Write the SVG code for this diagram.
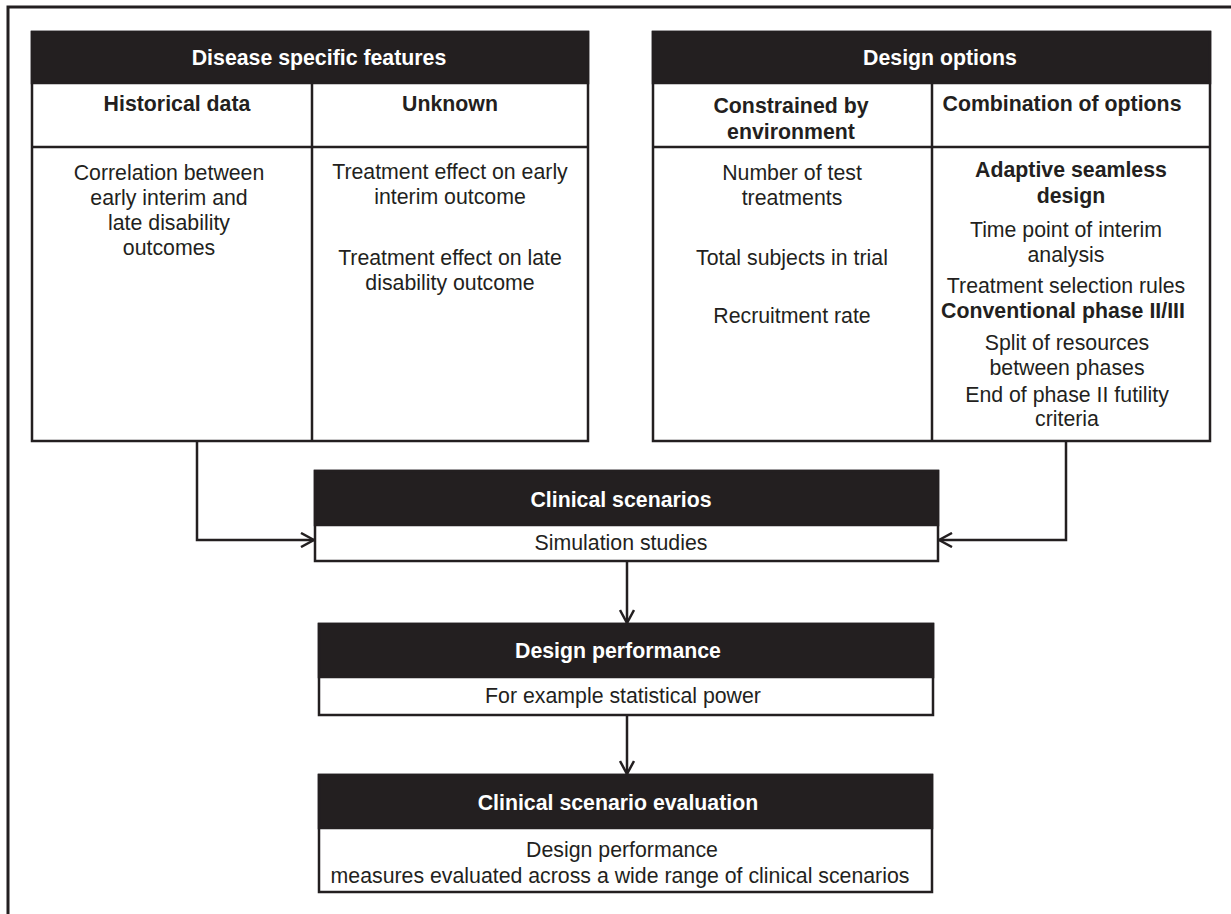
<svg xmlns="http://www.w3.org/2000/svg" width="1231" height="914" viewBox="0 0 1231 914">
<defs>
<style>
text{font-family:"Liberation Sans",Arial,Helvetica,sans-serif;font-size:21.3px;fill:#231f20;text-anchor:middle}
.b{font-weight:bold}
.w{fill:#ffffff;font-weight:bold}
.box{fill:#ffffff;stroke:#231f20;stroke-width:2.5}
.hd{fill:#231f20;stroke:#231f20;stroke-width:2.5}
.ln{stroke:#231f20;stroke-width:2.5;fill:none}
.frame{stroke:#231f20;stroke-width:3;fill:none}
</style>
<marker id="arr" viewBox="0 0 16 16" refX="14" refY="8" markerWidth="16" markerHeight="16" markerUnits="userSpaceOnUse" orient="auto">
<path d="M1,1 L14,8 L1,15" fill="none" stroke="#231f20" stroke-width="2.5" stroke-linejoin="miter"/>
</marker>
</defs>
<rect x="0" y="0" width="1231" height="914" fill="#ffffff"/>
<path class="frame" d="M8,914 L8,7 L1231,7"/>

<g id="disease-features">
<rect class="box" x="32" y="32" width="556" height="409"/>
<rect class="hd" x="32" y="32" width="556" height="51"/>
<line class="ln" x1="32" y1="147" x2="588" y2="147"/>
<line class="ln" x1="312" y1="83" x2="312" y2="441"/>
<text class="w" x="319" y="65">Disease specific features</text>
<text class="b" x="177" y="111">Historical data</text>
<text class="b" x="450" y="111">Unknown</text>
<text x="169" y="180">Correlation between</text>
<text x="169" y="205">early interim and</text>
<text x="169" y="230">late disability</text>
<text x="169" y="255">outcomes</text>
<text x="450" y="179">Treatment effect on early</text>
<text x="450" y="204">interim outcome</text>
<text x="450" y="265">Treatment effect on late</text>
<text x="450" y="290">disability outcome</text>
</g>

<g id="design-options">
<rect class="box" x="653" y="32" width="557" height="409"/>
<rect class="hd" x="653" y="32" width="557" height="51"/>
<line class="ln" x1="653" y1="147" x2="1210" y2="147"/>
<line class="ln" x1="932" y1="83" x2="932" y2="441"/>
<text class="w" x="940" y="65">Design options</text>
<text class="b" x="791" y="113">Constrained by</text>
<text class="b" x="791" y="139">environment</text>
<text class="b" x="1062" y="111">Combination of options</text>
<text x="792" y="180">Number of test</text>
<text x="792" y="205">treatments</text>
<text x="792" y="265">Total subjects in trial</text>
<text x="792" y="323">Recruitment rate</text>
<text class="b" x="1071" y="177">Adaptive seamless</text>
<text class="b" x="1071" y="203">design</text>
<text x="1066" y="237">Time point of interim</text>
<text x="1066" y="262">analysis</text>
<text x="1066" y="293">Treatment selection rules</text>
<text class="b" x="1063" y="318">Conventional phase II/III</text>
<text x="1067" y="350">Split of resources</text>
<text x="1067" y="375">between phases</text>
<text x="1067" y="402">End of phase II futility</text>
<text x="1067" y="426">criteria</text>
</g>

<g id="clinical-scenarios">
<rect class="box" x="315" y="471" width="623" height="90"/>
<rect class="hd" x="315" y="471" width="623" height="54"/>
<text class="w" x="621" y="507">Clinical scenarios</text>
<text x="621" y="550">Simulation studies</text>
</g>

<g id="design-performance">
<rect class="box" x="319" y="624" width="614" height="91"/>
<rect class="hd" x="319" y="624" width="614" height="53"/>
<text class="w" x="618" y="658">Design performance</text>
<text x="623" y="703">For example statistical power</text>
</g>

<g id="scenario-evaluation">
<rect class="box" x="319" y="775" width="613" height="117"/>
<rect class="hd" x="319" y="775" width="613" height="53"/>
<text class="w" x="618" y="810">Clinical scenario evaluation</text>
<text x="622" y="857">Design performance</text>
<text x="620" y="883">measures evaluated across a wide range of clinical scenarios</text>
</g>

<g id="connectors">
<path class="ln" d="M197,441 L197,540 L314,540" marker-end="url(#arr)"/>
<path class="ln" d="M1066,441 L1066,540 L939,540" marker-end="url(#arr)"/>
<path class="ln" d="M627,561 L627,623" marker-end="url(#arr)"/>
<path class="ln" d="M627,715 L627,774" marker-end="url(#arr)"/>
</g>
</svg>
